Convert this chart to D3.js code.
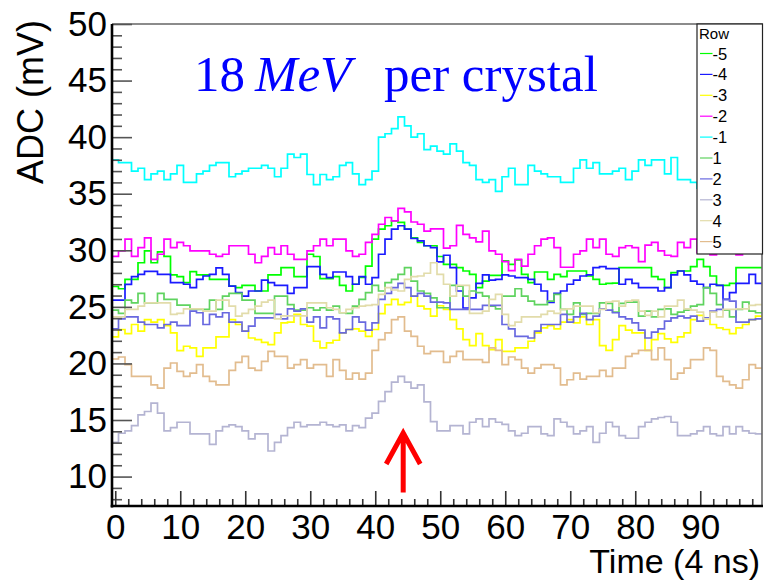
<!DOCTYPE html>
<html>
<head>
<meta charset="utf-8">
<script src="https://cdn.jsdelivr.net/npm/d3@7"></script>
<style>
  html, body { margin: 0; padding: 0; background: #fff; }
  svg { display: block; }
</style>
</head>
<body>
<svg id="chart" width="768" height="581"></svg>
<script>
// ---------------- data ----------------
const rowLabels = ["-5", "-4", "-3", "-2", "-1", "1", "2", "3", "4", "5"];
const rowColors = ["#00ff00", "#1a1aff", "#ffff00", "#ff00ff", "#00ffff", "#5fd35f", "#6868e0", "#b4b4d2", "#e2dcaa", "#e2bc8e"];

const rowM5 = [26.8,26.6,27.43,27.43,28.9,29.95,28.9,29.86,29.47,27.82,27.67,27.14,28.11,27.82,27.82,27.43,27.43,27.43,26.84,26.7,26.9,26.9,26.4,26.4,27.82,27.82,28.47,28.47,27.67,27.67,29.65,29.45,27.49,27.49,27.67,26.9,26.4,27.0,27.6,28.6,30.98,31.87,32.17,32.6,32.46,31.87,31.1,30.7,30.4,30.4,29.45,28.76,28.76,28.47,28.17,27.88,26.7,27.28,27.79,27.79,29.06,28.76,29.15,27.88,27.14,28.08,28.08,27.43,27.88,27.67,28.17,28.17,28.17,27.73,27.43,27.0,27.08,27.1,28.47,28.47,28.47,28.47,28.47,27.67,27.43,26.7,28.02,28.17,28.17,28.56,29.2,28.56,27.73,26.9,26.9,27.08,28.47,28.47,28.47,28.47];
const rowM4 = [25.6,25.6,26.99,27.67,27.88,28.14,28.14,27.88,27.88,27.14,27.14,27.0,26.7,27.43,27.73,27.88,28.44,27.88,26.84,26.25,25.95,26.4,26.4,27.37,27.14,26.9,26.9,26.19,26.7,26.7,28.56,28.56,27.88,27.58,28.08,28.08,27.67,27.0,27.67,27.0,27.58,29.65,30.98,31.87,32.17,31.87,31.04,30.84,30.4,30.24,28.97,29.56,28.47,26.4,24.9,25.8,27.08,27.82,27.37,27.43,27.82,27.73,27.58,27.58,27.43,27.0,26.4,25.4,26.19,26.4,27.0,27.37,27.73,27.82,28.47,28.56,28.38,28.38,27.0,27.43,27.08,26.7,26.7,26.7,26.4,26.7,27.82,28.17,27.82,27.28,27.0,26.7,27.0,26.9,25.66,26.25,27.08,27.08,27.88,27.08];
const rowM3 = [22.34,23.0,22.64,23.44,22.85,23.88,23.65,23.88,23.35,22.7,21.13,21.52,21.37,20.63,21.37,21.37,22.34,22.34,23.88,23.44,22.85,22.25,22.1,21.87,21.66,22.7,23.59,23.65,24.33,23.44,23.29,21.96,21.37,21.81,22.05,22.7,23.0,23.05,22.85,22.4,23.0,24.4,25.2,25.66,25.2,25.4,25.95,25.07,24.83,24.18,25.1,24.77,23.88,23.05,22.1,21.58,22.64,21.58,21.22,22.1,21.07,21.07,21.37,21.37,21.96,22.7,23.14,23.35,23.05,23.65,23.88,23.59,24.12,23.44,23.88,21.58,21.16,22.1,23.35,22.94,22.7,22.7,21.16,22.1,22.64,22.17,21.87,22.34,22.7,23.88,24.24,23.94,23.44,23.14,23.0,22.64,23.14,23.44,23.88,24.18];
const rowM2 = [29.47,29.95,30.98,29.47,30.24,31.1,29.2,29.65,30.98,30.24,30.7,30.4,29.95,29.95,29.95,29.65,29.47,29.65,30.4,30.4,30.4,29.65,28.9,29.47,30.24,29.65,30.4,29.65,29.2,29.2,29.95,30.4,30.98,30.4,30.98,30.98,29.95,29.47,29.65,30.7,31.4,32.3,32.9,32.6,33.7,33.4,32.5,32.3,31.7,31.9,31.9,30.2,30.4,32.2,31.4,31.1,30.75,31.7,29.95,29.65,29.0,28.2,29.2,28.6,29.65,30.4,30.98,31.1,30.24,28.5,28.5,29.65,29.95,30.98,30.24,30.98,29.65,29.47,30.24,30.4,30.24,29.0,30.45,30.7,29.95,29.56,29.47,30.7,30.24,30.98,29.8,30.2,29.6,30.4,29.9,30.1,29.6,30.3,29.9,30.2];
const rowM1 = [38.0,37.75,37.75,37.0,37.25,36.25,36.75,37.0,36.25,36.75,37.5,36.0,36.0,36.75,37.0,37.5,37.75,37.75,36.5,36.75,37.0,37.25,37.25,37.5,37.25,36.5,37.25,38.5,38.2,38.5,36.7,35.8,36.7,36.25,36.5,37.5,37.75,36.75,35.8,36.25,37.0,40.0,40.3,40.75,41.8,41.0,40.0,40.3,38.9,39.2,38.76,38.5,39.4,38.76,37.75,37.5,36.25,36.0,36.25,35.2,36.5,37.25,35.8,35.8,37.5,37.0,36.75,36.5,36.5,36.0,36.0,37.25,38.0,37.25,37.75,36.75,36.75,37.0,37.25,36.25,37.0,38.0,37.5,38.0,38.0,36.75,38.2,36.25,36.25,36.0,35.5,36.5,37.0,36.25,36.75,37.25,36.5,36.0,36.75,37.0];
const rowP1 = [24.71,24.42,25.6,25.36,26.19,25.36,25.36,26.19,25.66,25.66,25.15,25.15,24.77,24.77,24.77,25.6,24.77,25.95,26.19,26.19,25.6,25.6,24.42,24.42,24.42,25.95,25.95,25.2,24.71,24.71,24.92,24.71,24.92,24.71,25.07,24.48,24.42,25.07,25.66,26.25,26.9,26.4,27.14,27.43,27.88,28.47,27.28,26.4,26.19,25.8,24.92,24.92,26.9,26.84,25.95,26.4,26.25,25.95,25.07,24.83,25.95,25.95,26.6,25.95,25.51,25.2,25.2,25.51,26.1,24.77,24.33,25.36,24.33,24.42,24.42,25.36,25.3,24.53,25.3,25.42,25.42,24.18,24.62,24.12,24.77,24.83,24.33,24.53,24.71,25.07,25.2,26.7,26.19,25.2,24.71,24.12,24.77,25.42,24.62,24.48];
const rowP2 = [23.05,23.94,24.12,24.12,23.65,23.44,23.44,23.14,23.44,23.65,23.35,23.35,24.62,24.48,23.44,24.33,24.12,24.48,23.65,23.65,22.85,23.29,24.03,24.03,24.03,24.33,23.94,24.83,24.62,24.83,23.65,24.12,23.14,24.12,23.94,22.7,23.0,24.12,23.65,22.94,23.59,25.66,26.19,26.7,27.08,26.7,25.95,26.19,25.95,25.42,25.42,25.36,24.77,24.77,24.77,24.77,24.77,25.13,25.13,25.13,23.44,23.05,22.4,22.4,22.25,22.85,23.44,23.44,23.44,24.33,23.65,24.12,24.42,23.88,24.18,24.83,24.71,24.48,24.12,23.94,23.59,22.94,22.25,22.76,23.05,23.74,24.03,24.18,24.03,24.18,23.74,24.03,24.62,24.77,25.66,25.51,23.65,23.65,23.88,23.94];
const rowP3 = [13.03,13.83,14.04,14.51,15.46,15.75,16.49,15.6,14.04,14.33,14.8,14.8,13.77,13.77,13.77,12.85,14.04,14.42,14.57,14.42,14.04,13.33,13.77,13.77,12.26,13.03,13.62,14.33,14.8,14.42,14.57,14.57,14.8,14.57,14.42,14.57,14.04,14.51,14.33,15.16,15.6,16.64,17.5,18.35,18.85,18.35,17.82,18.1,16.6,14.86,14.04,14.04,14.51,14.51,13.77,14.8,15.1,14.42,15.1,14.8,14.62,14.04,13.62,13.83,14.42,14.42,13.77,13.62,15.1,14.8,14.42,13.77,14.04,14.42,13.03,13.83,14.8,14.42,13.62,13.39,13.39,14.42,14.8,15.1,15.22,15.31,14.8,13.62,13.62,13.77,14.04,14.42,13.77,13.62,14.42,13.77,14.42,14.04,13.83,13.77];
const rowP4 = [24.12,24.12,24.77,24.77,25.07,25.36,25.36,25.36,25.36,24.33,24.42,24.83,24.83,24.83,24.62,24.62,25.6,25.6,25.07,24.18,24.42,24.77,25.07,25.42,25.6,23.94,24.2,24.2,24.2,24.2,25.36,25.36,25.36,24.92,24.77,24.48,24.77,24.92,25.07,25.13,25.2,26.1,26.7,26.49,26.4,27.43,27.67,27.73,27.97,28.9,27.88,27.0,25.95,26.9,26.9,24.42,24.42,24.62,25.66,26.1,24.33,23.35,23.65,24.12,24.12,24.12,24.33,24.62,24.42,24.77,24.83,25.07,25.07,25.07,24.48,24.77,25.42,25.51,25.07,25.51,25.6,24.62,24.24,24.62,24.12,25.07,25.07,25.6,24.83,24.71,24.53,23.94,24.53,24.12,24.77,24.77,24.83,24.83,25.13,25.2];
const rowP5 = [20.39,20.57,19.89,18.85,18.85,18.85,18.1,17.82,19.59,20.04,19.3,18.85,19.15,19.89,18.85,18.41,18.1,18.1,19.39,20.1,20.63,19.59,19.39,20.18,21.07,20.63,20.63,19.59,19.89,20.33,19.59,19.89,19.89,18.85,20.33,19.39,18.62,19.15,18.62,19.15,21.16,22.1,22.7,23.88,24.12,22.85,22.4,21.52,20.87,21.07,21.07,20.1,20.63,21.07,20.33,20.33,20.33,20.1,21.37,21.16,19.89,20.57,20.33,19.59,19.15,19.59,19.89,19.89,19.59,18.1,18.56,19.15,18.62,18.85,18.85,19.39,18.85,19.59,19.59,20.63,20.87,21.16,21.16,20.33,21.37,20.33,18.62,19.15,19.59,20.33,20.33,21.37,21.16,18.85,18.41,18.1,17.82,18.56,19.89,19.59];

const seriesValues = [rowM5, rowM4, rowM3, rowM2, rowM1, rowP1, rowP2, rowP3, rowP4, rowP5];

const yMajorTicks = [10, 15, 20, 25, 30, 35, 40, 45, 50];
const xMajorTicks = [0, 10, 20, 30, 40, 50, 60, 70, 80, 90];
const xDomain = [-0.5, 99.5];
const yDomain = [7.4, 50];
const titleParts = ["18", "MeV", "per crystal"];
const xTitle = "Time (4 ns)";
const yTitle = "ADC (mV)";
const legendHeader = "Row";
const arrowMark = { x: 44.3, yFrom: 8.6, yTo: 13.85 };

// ---------------- drawing ----------------
const SANS = "'Liberation Sans', Arial, Helvetica, sans-serif";
const SERIF = "'Liberation Serif', 'Times New Roman', Times, serif";
const svg = d3.select("#chart");
const L = 112, R = 762, T = 24, B = 506;

const x = d3.scaleLinear().domain(xDomain).range([L, R]);
const y = d3.scaleLinear().domain(yDomain).range([B, T]);

svg.append("rect").attr("width", 768).attr("height", 581).attr("fill", "#fff");

svg.append("defs").append("clipPath").attr("id", "plotclip")
  .append("rect").attr("x", L).attr("y", T).attr("width", R - L).attr("height", B - T);

// histogram step lines
const line = d3.line().x(d => x(d[0])).y(d => y(d[1])).curve(d3.curveStepAfter);
const gLines = svg.append("g").attr("clip-path", "url(#plotclip)");
seriesValues.forEach((vals, k) => {
  const pts = vals.map((v, i) => [i - 0.5, v]);
  pts.push([vals.length - 0.5, vals[vals.length - 1]]);
  gLines.append("path")
    .attr("d", line(pts))
    .attr("fill", "none")
    .attr("stroke", rowColors[k])
    .attr("stroke-width", 1.7)
    .attr("stroke-linejoin", "miter");
});

// frame (top/right)
svg.append("path")
  .attr("d", `M${L},${T}H${R}V${B}`)
  .attr("fill", "none").attr("stroke", "#666").attr("stroke-width", 1.6);

// Y axis
const yMinor = d3.range(8, 51, 1).filter(v => !yMajorTicks.includes(v));
const gyMinor = svg.append("g").attr("transform", `translate(${L},0)`)
  .call(d3.axisLeft(y).tickValues(yMinor).tickSize(-10).tickFormat(""));
gyMinor.select(".domain").remove();
gyMinor.selectAll(".tick line").attr("stroke", "#555").attr("stroke-width", 1.6);

const gy = svg.append("g").attr("transform", `translate(${L},0)`)
  .call(d3.axisLeft(y).tickValues(yMajorTicks).tickSize(-20).tickPadding(5).tickFormat(d3.format("d")));
gy.select(".domain").remove();
gy.selectAll(".tick line").attr("stroke", "#555").attr("stroke-width", 1.6);
gy.selectAll(".tick text").style("font-size", "35px").attr("fill", "#000")
  .style("font-family", SANS);

// X axis
const xMinor = d3.range(0, 100, 2).filter(v => !xMajorTicks.includes(v));
const gxMinor = svg.append("g").attr("transform", `translate(0,${B})`)
  .call(d3.axisBottom(x).tickValues(xMinor).tickSize(-7).tickFormat(""));
gxMinor.select(".domain").remove();
gxMinor.selectAll(".tick line").attr("stroke", "#333").attr("stroke-width", 1.6);

const gx = svg.append("g").attr("transform", `translate(0,${B})`)
  .call(d3.axisBottom(x).tickValues(xMajorTicks).tickSize(-15).tickPadding(8).tickFormat(d3.format("d")));
gx.select(".domain").remove();
gx.selectAll(".tick line").attr("stroke", "#333").attr("stroke-width", 1.6);
gx.selectAll(".tick text").style("font-size", "35px").attr("fill", "#000")
  .style("font-family", SANS);

// axis lines
svg.append("line").attr("x1", L).attr("x2", L).attr("y1", T).attr("y2", B + 1.5)
  .attr("stroke", "#000").attr("stroke-width", 2.6);
svg.append("line").attr("x1", L - 1.3).attr("x2", R + 1).attr("y1", B).attr("y2", B)
  .attr("stroke", "#000").attr("stroke-width", 2.6);

// axis titles
svg.append("text").text(xTitle)
  .attr("x", 760).attr("y", 573).attr("text-anchor", "end")
  .style("font-family", SANS).style("font-size", "34px").attr("fill", "#000");
svg.append("text").text(yTitle)
  .attr("transform", "translate(43,20) rotate(-90)")
  .attr("text-anchor", "end")
  .style("font-family", SANS).style("font-size", "36px").attr("fill", "#000");

// title
const title = svg.append("text")
  .attr("y", 91).attr("fill", "#0000ff")
  .style("font-family", SERIF)
  .style("font-size", "51px");
title.append("tspan").attr("x", 194).text(titleParts[0]);
title.append("tspan").attr("x", 255).style("font-style", "italic").text(titleParts[1]);
title.append("tspan").attr("x", 384).text(titleParts[2]);

// arrow
const ax = x(arrowMark.x), ayTip = y(arrowMark.yTo), ayBot = y(arrowMark.yFrom);
svg.append("path")
  .attr("d", `M${ax},${ayBot}V${ayTip + 2}M${ax - 17},${ayTip + 31}L${ax},${ayTip}L${ax + 17},${ayTip + 31}`)
  .attr("fill", "none").attr("stroke", "#ff0000").attr("stroke-width", 5)
  .attr("stroke-linejoin", "miter");

// legend
const lg = svg.append("g");
lg.append("rect").attr("x", 697).attr("y", 24).attr("width", 65.5).attr("height", 230)
  .attr("fill", "#fff").attr("stroke", "#222").attr("stroke-width", 1.2);
lg.append("text").text(legendHeader).attr("x", 699).attr("y", 38.5)
  .style("font-family", SANS).style("font-size", "15px").attr("fill", "#000");
rowLabels.forEach((lab, k) => {
  const cy = 53.5 + k * 20.9;
  lg.append("line").attr("x1", 700).attr("x2", 712.5).attr("y1", cy).attr("y2", cy)
    .attr("stroke", rowColors[k]).attr("stroke-width", 1.2);
  lg.append("text").text(lab).attr("x", 712.5).attr("y", cy + 6)
    .style("font-family", SANS).style("font-size", "16.5px").attr("fill", "#000");
});
</script>
</body>
</html>
